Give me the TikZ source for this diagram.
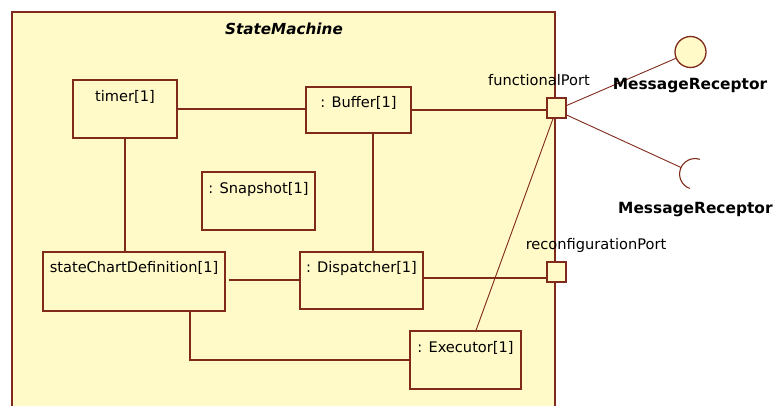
\documentclass[tikz,border=0pt]{standalone}
\usepackage{fontspec}
\setmainfont{DejaVu Sans}
\usetikzlibrary{calc}
\definecolor{bg}{HTML}{FFFAC8}
\definecolor{brd}{HTML}{7F2A1A}
\begin{document}
\begin{tikzpicture}[x=1pt,y=1pt,
  part/.style={draw=brd, fill=bg, line width=1.3pt, inner sep=0pt},
  wire/.style={draw=brd, line width=1.1pt},
  txt/.style={font=\fontsize{14.6}{17}\selectfont, inner sep=0pt, text=black},
  btxt/.style={font=\bfseries\fontsize{15.4}{18}\selectfont, inner sep=0pt, text=black},
  ttl/.style={font=\bfseries\itshape\fontsize{15.2}{18}\selectfont, inner sep=0pt, text=black}]
\useasboundingbox (0,0) rectangle (773,-406);
\clip (0,0) rectangle (773,-406);

% enclosing structured class
\draw[part, line width=1.4pt] (12,-12) rectangle (555,-440);
\node[ttl] (title) at (284,-29) {StateMachine};

% parts
\node[part, minimum width=104, minimum height=58] (timer)   at (125,-109)   {};
\node[part, minimum width=105, minimum height=46] (buffer)  at (358.5,-110) {};
\node[part, minimum width=113, minimum height=58] (snap)    at (258.5,-201) {};
\node[part, minimum width=182, minimum height=59] (chart)   at (134,-281.5) {};
\node[part, minimum width=123, minimum height=57] (disp)    at (361.5,-280.5) {};
\node[part, minimum width=111, minimum height=58] (exec)    at (465.5,-360) {};

\node[txt] (timerT)  at ([yshift=-18]timer.north)  {timer[1]};
\node[txt] (bufferT) at ([yshift=-17]buffer.north) {: Buffer[1]};
\node[txt] (snapT)   at ([yshift=-18]snap.north)   {: Snapshot[1]};
\node[txt] (chartT)  at ([yshift=-17]chart.north)  {stateChartDefinition[1]};
\node[txt] (dispT)   at ([yshift=-17]disp.north)   {: Dispatcher[1]};
\node[txt] (execT)   at ([yshift=-18]exec.north)   {: Executor[1]};

% connectors between parts
\draw[wire] (timer.east) -- (timer.east -| buffer.west);
\draw[wire] (timer.south) -- (timer.south |- chart.north);
\draw[wire] ([xshift=14.5]buffer.south) -- ([xshift=14.5]buffer.south |- disp.north);
\draw[wire] ([xshift=3,yshift=1.5]chart.east) -- ([yshift=1.5]chart.east -| disp.west);
\draw[wire] ([xshift=56]chart.south) |- (exec.west);

% ports
\node[part, minimum width=19, minimum height=20] (fport) at (556.5,-108) {};
\node[part, minimum width=19, minimum height=20] (rport) at (556.5,-272) {};
\node[txt] (fportT) at (539,-80)  {functionalPort};
\node[txt] (rportT) at (596,-245) {reconfigurationPort};

\draw[wire] (buffer.east) -- (buffer.east -| fport.west);
\draw[wire] ([yshift=2.5]disp.east) -- ([yshift=2.5]disp.east -| rport.west);
\draw[wire, line width=0.9pt] ([xshift=10.5]exec.north) -- ([xshift=-3.5]fport.south);

% provided interface (lollipop)
\node[part, circle, minimum size=31] (lolly) at (690.5,-52) {};
\draw[wire, line width=0.9pt] ([yshift=2.5]fport.east) -- (lolly);
\node[btxt] (provT) at (690,-86) {MessageReceptor};

% required interface (socket)
\coordinate (sockc) at (695,-174);
\coordinate (sock) at ($(sockc)+(155:15.4)$);
\draw[wire, line width=0.9pt] ([yshift=-7]fport.east) -- (sock);
\draw[wire] ($(sockc)+(72:15.4)$) arc[start angle=72, end angle=250, radius=15.4];
\node[btxt, anchor=west] (reqT) at (618,-210) {MessageReceptor};
\end{tikzpicture}
\end{document}
